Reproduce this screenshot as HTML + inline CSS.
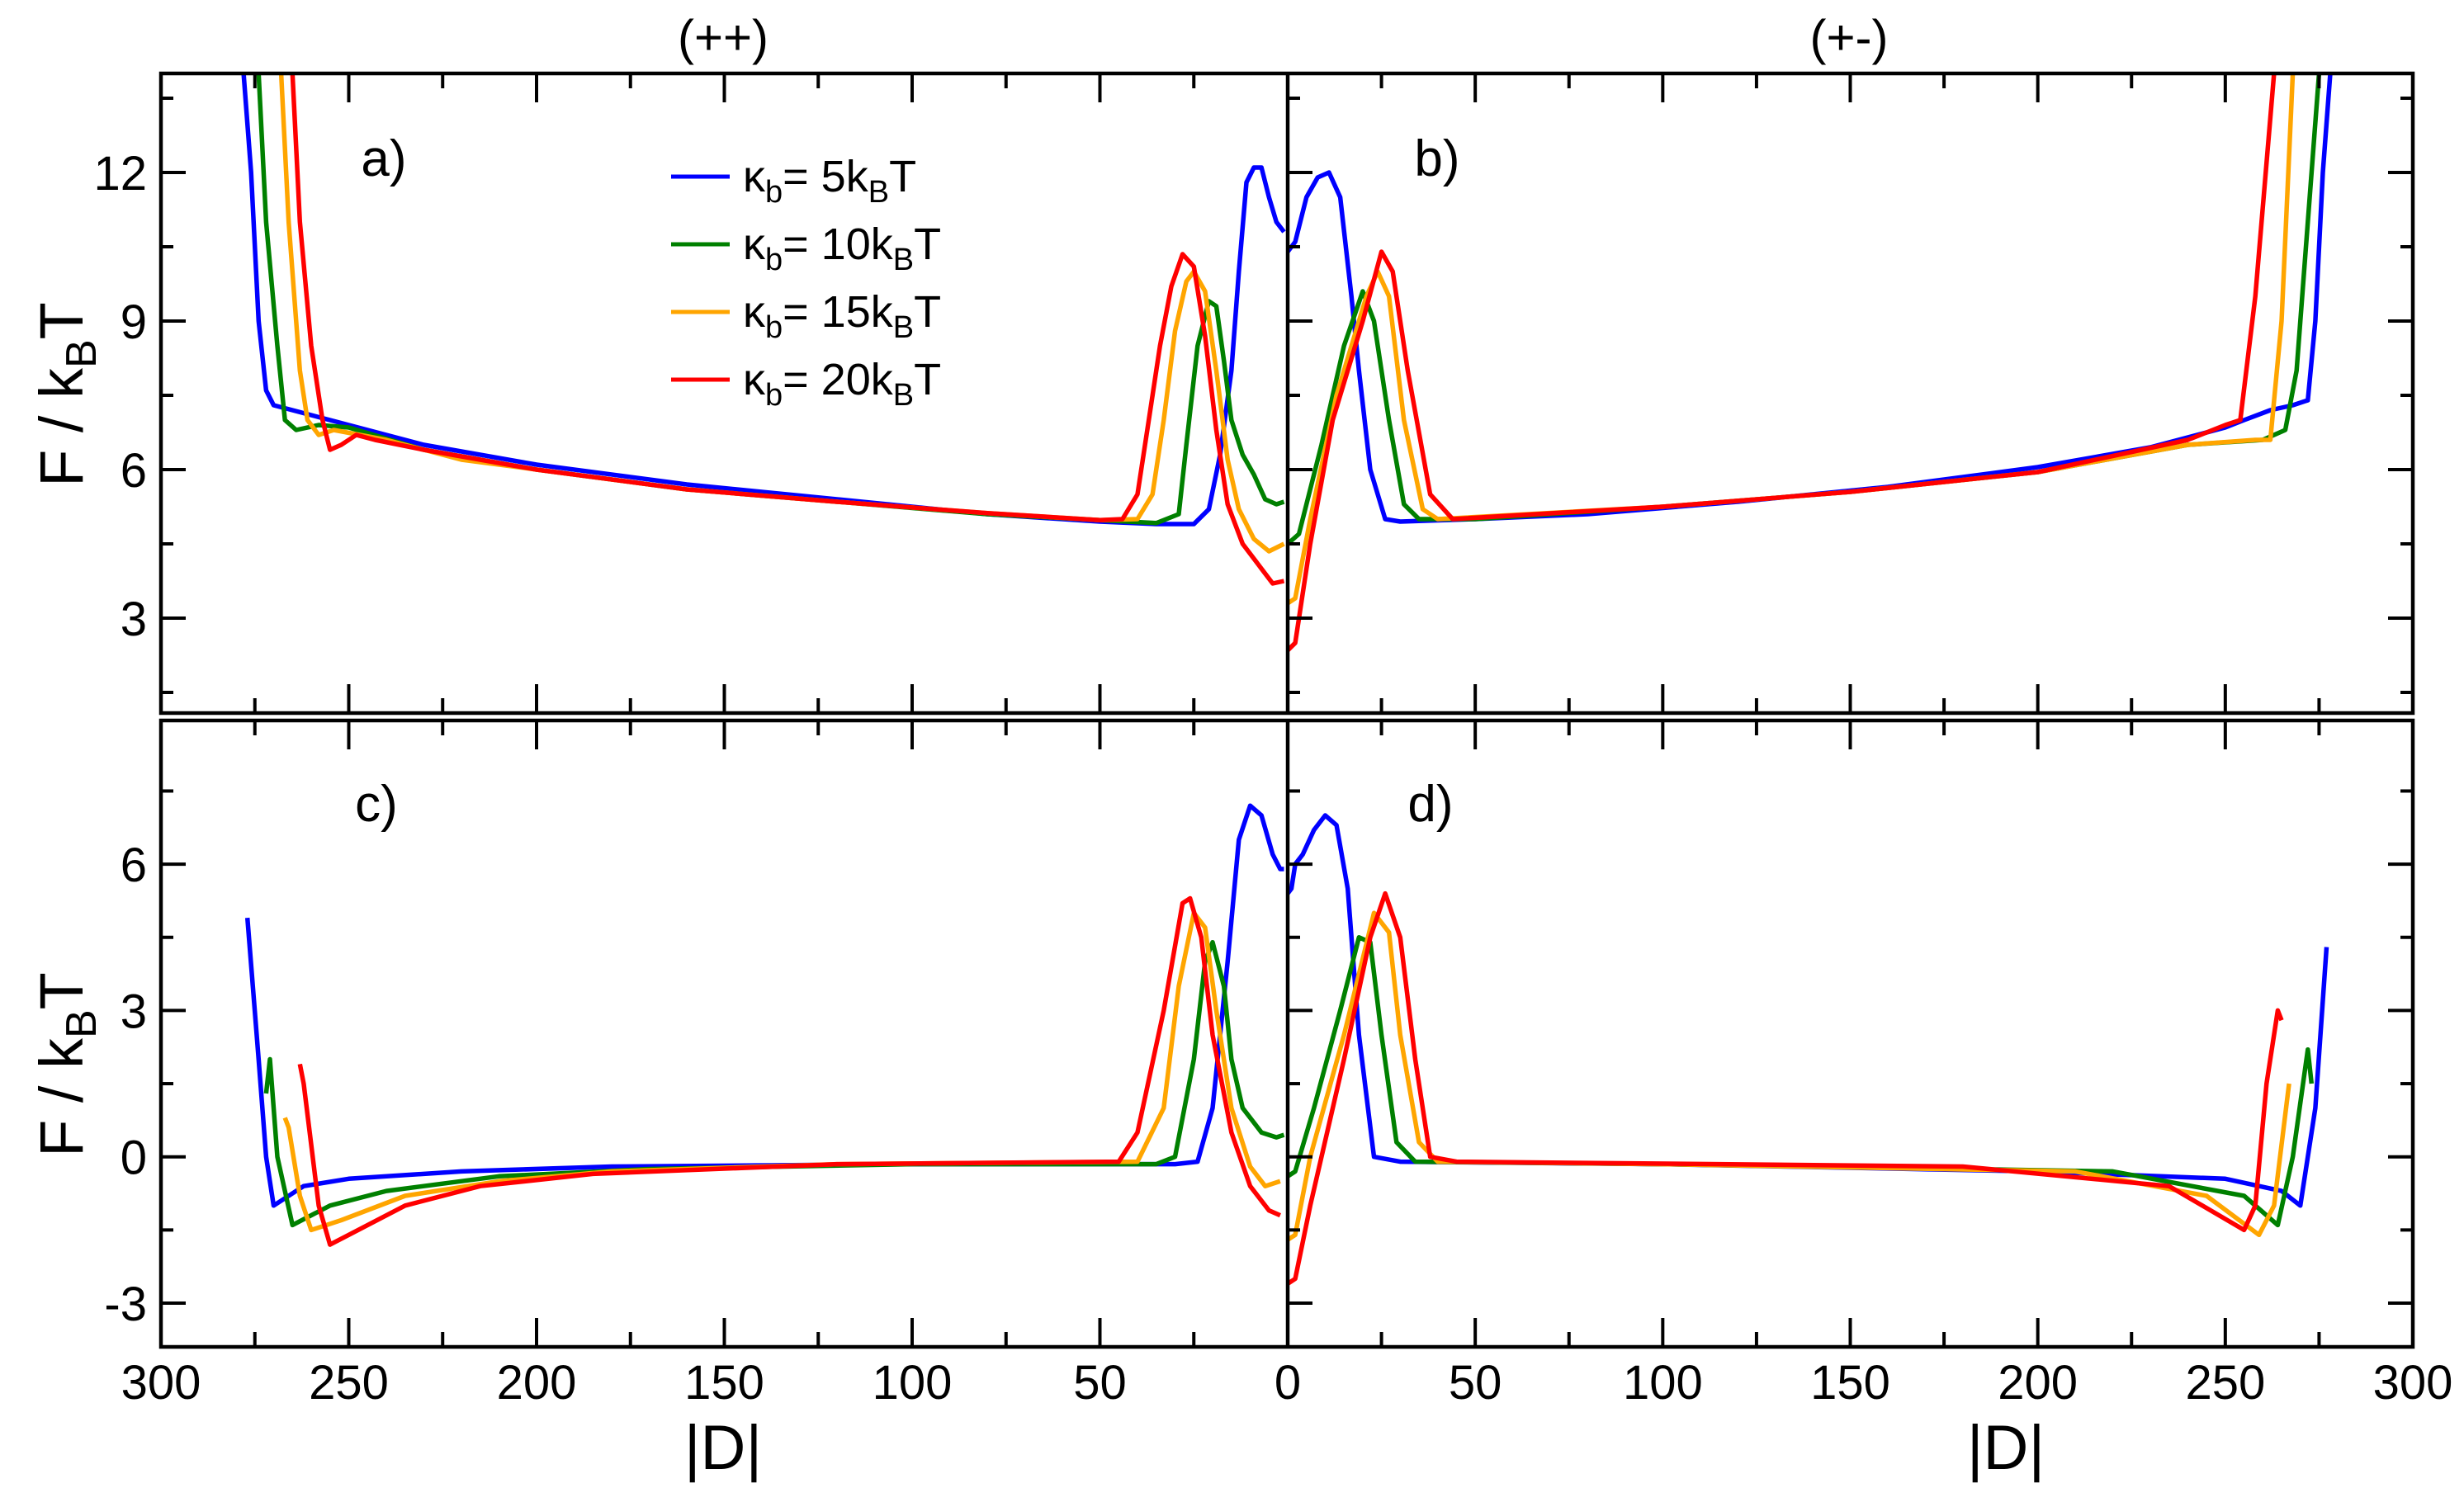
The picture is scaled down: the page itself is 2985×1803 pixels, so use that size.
<!DOCTYPE html>
<html><head><meta charset="utf-8"><style>
html,body{margin:0;padding:0;background:#fff}
svg{display:block;font-family:"Liberation Sans",sans-serif}
</style></head><body>
<svg id="chart" width="2985" height="1803" viewBox="0 0 2985 1803" xmlns="http://www.w3.org/2000/svg"></svg>
<script>
// ---- data (D, F) ----
const aBlueD=[278,276,274,272,270,265,250,230,200,160,120,80,50,35,25,21,18,15,13,11,9,7,5,3,1];
const aBlueF=[14,12,9,7.6,7.3,7.2,6.9,6.5,6.1,5.7,5.4,5.1,4.95,4.9,4.9,5.2,6.3,8,10,11.8,12.1,12.1,11.5,11.0,10.8];
const aGreenD=[274,272,269,267,264,258,250,230,200,160,120,80,50,35,29,27,24,21,19,17,15,12,9,6,3,1];
const aGreenF=[14,11,8.5,7,6.8,6.9,6.85,6.4,6.0,5.6,5.35,5.1,4.98,4.92,5.1,6.5,8.5,9.4,9.3,8.2,7,6.3,5.9,5.4,5.3,5.35];
const aOrangeD=[268,266,263,261,258,254,240,220,200,160,120,80,50,40,36,33,30,27,25,22,19,16,13,9,5,1];
const aOrangeF=[14,11,8,7,6.7,6.8,6.6,6.2,6.0,5.6,5.35,5.12,4.98,5.0,5.5,7,8.8,9.8,10,9.6,8,6.2,5.2,4.6,4.35,4.5];
const aRedD=[265,263,260,257,255,252,248,243,230,200,160,120,80,50,44,40,37,34,31,28,25,22,19,16,12,8,4,1];
const aRedF=[14,11,8.5,7,6.4,6.5,6.7,6.6,6.4,6.0,5.6,5.35,5.12,4.98,5.0,5.5,7,8.5,9.7,10.35,10.1,8.7,6.8,5.3,4.5,4.1,3.7,3.75];

const bBlueD=[0,2,5,8,11,14,17,19,22,26,30,50,80,120,160,200,230,250,255,262,268,272,274,276,278];
const bBlueF=[10.4,10.6,11.5,11.9,12,11.5,9.5,8,6,5,4.95,5.0,5.1,5.35,5.65,6.05,6.45,6.85,7.0,7.2,7.3,7.4,9,12,14];
const bGreenD=[0,3,9,15,20,23,27,31,35,50,100,150,200,240,260,266,269,272,275];
const bGreenF=[4.5,4.7,6.5,8.5,9.6,9.0,7,5.3,5.0,5.0,5.25,5.55,5.95,6.5,6.6,6.8,8,11,14];
const bOrangeD=[0,2,6,13,21,24,27,31,36,40,100,150,200,240,258,262,265,268];
const bOrangeF=[3.3,3.4,5,7.5,9.5,10,9.5,7,5.2,5.0,5.25,5.55,5.95,6.5,6.6,6.6,9,14];
const bRedD=[0,2,6,12,20,25,28,32,38,44,100,150,200,240,250,254,258,263];
const bRedF=[2.35,2.5,4.5,7,9,10.4,10,8,5.5,5.0,5.25,5.55,5.95,6.6,6.9,7.0,9.5,14];

const cBlueD=[277,274,272,270,266,262,250,220,180,100,30,24,20,16,13,10,7,4,2,1];
const cBlueF=[4.9,2,0,-1,-0.8,-0.6,-0.45,-0.3,-0.2,-0.15,-0.15,-0.1,1,4,6.5,7.2,7.0,6.2,5.9,5.9];
const cGreenD=[272,271,269,265,255,240,210,170,100,35,30,25,22,20,17,15,12,7,3,1];
const cGreenF=[1.3,2,0,-1.4,-1,-0.7,-0.4,-0.25,-0.15,-0.15,0,2,4,4.4,3.5,2,1,0.5,0.4,0.45];
const cOrangeD=[267,266,263,260,252,235,210,180,120,40,33,29,25,22,19,15,10,6,2];
const cOrangeF=[0.8,0.6,-0.8,-1.5,-1.3,-0.8,-0.5,-0.3,-0.15,-0.1,1,3.5,5,4.7,3,1,-0.2,-0.6,-0.5];
const cRedD=[263,262,258,255,250,235,215,185,120,45,40,33,28,26,23,20,15,10,5,2];
const cRedF=[1.9,1.5,-1,-1.8,-1.6,-1,-0.6,-0.35,-0.15,-0.1,0.5,3,5.2,5.3,4.5,2.5,0.5,-0.6,-1.1,-1.2];

const dBlueD=[0,1,2,4,7,10,13,16,19,23,30,100,200,250,265,270,274,277];
const dBlueF=[5.4,5.5,6,6.2,6.7,7.0,6.8,5.5,2.5,0,-0.1,-0.15,-0.3,-0.45,-0.7,-1,1,4.3];
const dGreenD=[0,2,7,14,19,22,25,29,34,100,220,255,264,268,272,273];
const dGreenF=[-0.4,-0.3,1,3,4.5,4.4,2.5,0.3,-0.1,-0.15,-0.3,-0.8,-1.4,0,2.2,1.5];
const dOrangeD=[0,2,6,15,23,27,30,35,40,100,210,245,259,263,267];
const dOrangeF=[-1.7,-1.6,0,2.5,5,4.6,2.5,0.3,-0.1,-0.15,-0.3,-0.8,-1.6,-1,1.5];
const dRedD=[0,2,6,15,22,26,30,34,38,45,180,235,255,258,261,264,265];
const dRedF=[-2.6,-2.5,-1,2,4.5,5.4,4.5,2,0,-0.1,-0.2,-0.6,-1.5,-1,1.5,3,2.8];

const topTicks=[3,6,9,12];
const botTicks=[-3,0,3,6];
const xTicks=[0,50,100,150,200,250,300];

// ---- layout ----
const NS="http://www.w3.org/2000/svg";
const svg=document.getElementById('chart');
const L=195,C=1560,R=2923;
const T1=89,B1=864,T2=873,B2=1632;
const colors={blue:'#0000ff',green:'#008000',orange:'#ffa500',red:'#ff0000'};
function el(tag,attrs,parent){const e=document.createElementNS(NS,tag);for(const k in attrs)e.setAttribute(k,attrs[k]);(parent||svg).appendChild(e);return e;}
function xLeft(d){return C-(C-L)*d/300;}
function xRight(d){return C+(R-C)*d/300;}
function yTop(f){return T1+(14-f)*60;}
function yBot(f){return 1401.7-f*59.1;}

const defs=el('defs',{});
[['clipA',L,T1,C-L,B1-T1],['clipB',C,T1,R-C,B1-T1],['clipC',L,T2,C-L,B2-T2],['clipD',C,T2,R-C,B2-T2]].forEach(c=>{
  const cp=el('clipPath',{id:c[0]},defs);el('rect',{x:c[1],y:c[2],width:c[3],height:c[4]},cp);
});

function series(D,F,xf,yf,color,clip,name){
  const pts=D.map((d,i)=>xf(d).toFixed(1)+','+yf(F[i]).toFixed(1)).join(' ');
  const p=el('polyline',{points:pts,fill:'none',stroke:color,'stroke-width':5.5,'stroke-linejoin':'round','clip-path':'url(#'+clip+')'});
  
  
}
const panels=[
 ['a',xLeft,yTop,'clipA',[[aBlueD,aBlueF,'blue'],[aGreenD,aGreenF,'green'],[aOrangeD,aOrangeF,'orange'],[aRedD,aRedF,'red']]],
 ['b',xRight,yTop,'clipB',[[bBlueD,bBlueF,'blue'],[bGreenD,bGreenF,'green'],[bOrangeD,bOrangeF,'orange'],[bRedD,bRedF,'red']]],
 ['c',xLeft,yBot,'clipC',[[cBlueD,cBlueF,'blue'],[cGreenD,cGreenF,'green'],[cOrangeD,cOrangeF,'orange'],[cRedD,cRedF,'red']]],
 ['d',xRight,yBot,'clipD',[[dBlueD,dBlueF,'blue'],[dGreenD,dGreenF,'green'],[dOrangeD,dOrangeF,'orange'],[dRedD,dRedF,'red']]]
];
panels.forEach(p=>p[4].forEach(s=>series(s[0],s[1],p[1],p[2],colors[s[2]],p[3],'panel-'+p[0]+'-'+s[2]+'-curve')));

function line(x1,y1,x2,y2,w,name){const l=el('line',{x1,y1,x2,y2,stroke:'#000','stroke-width':w});}
el('rect',{x:L,y:T1,width:R-L,height:B1-T1,fill:'none',stroke:'#000','stroke-width':4.5,});
el('rect',{x:L,y:T2,width:R-L,height:B2-T2,fill:'none',stroke:'#000','stroke-width':4.5,});
line(C,T1,C,B1,4.5,'top-divider');line(C,T2,C,B2,4.5,'bottom-divider');

for(let v=0;v<=300;v+=25){
  const major=v%50===0, len=major?35:18;
  [xLeft,xRight].forEach(xf=>{
    const x=xf(v);
    [[T1,1],[B1,-1],[T2,1],[B2,-1]].forEach(e=>line(x,e[0],x,e[0]+e[1]*len,4,'x-tick'));
  });
}
function yticks(yf,lo,hi,top,bot){
  for(let v=lo;v<=hi;v+=1.5){
    const y=yf(v); if(y<top+2||y>bot-2)continue;
    const major=Math.abs(v%3)<1e-6, len=major?30:15;
    line(L,y,L+len,y,4,'y-tick');line(C,y,C+len,y,4,'y-tick');line(R,y,R-len,y,4,'y-tick');
  }
}
yticks(yTop,1.5,13.5,T1,B1);yticks(yBot,-3,7.5,T2,B2);

function text(x,y,str,size,anchor,name){const t=el('text',{x,y,'font-size':size,'text-anchor':anchor||'middle',fill:'#000'});t.textContent=str;return t;}
topTicks.forEach(v=>text(178,yTop(v)+21,String(v),58,'end','y-tick-label'));
botTicks.forEach(v=>text(178,yBot(v)+21,String(v),58,'end','y-tick-label'));
xTicks.forEach(v=>{text(xLeft(v),1695,String(v),58,'middle','x-tick-label');});
xTicks.forEach(v=>{if(v>0)text(xRight(v),1695,String(v),58,'middle','x-tick-label');});

text(876,1780,'|D|',76,'middle','x-axis-title-left');
text(2430,1780,'|D|',76,'middle','x-axis-title-right');
text(876,66,'(++)',60,'middle','column-title-left');
text(2240,66,'(+-)',60,'middle','column-title-right');

function ylabel(cy,name){
  const t=el('text',{x:0,y:0,'font-size':74,'text-anchor':'middle',transform:'translate(100,'+cy+') rotate(-90)'});
  
  t.innerHTML='F / k<tspan dy="16" font-size="52">B</tspan><tspan dy="-16">T</tspan>';
}
ylabel(478,'y-axis-title-top');ylabel(1290,'y-axis-title-bottom');

text(465,213,'a)',62,'middle','panel-label-a');
text(1741,213,'b)',62,'middle','panel-label-b');
text(456,995,'c)',62,'middle','panel-label-c');
text(1733,995,'d)',62,'middle','panel-label-d');

const legVals=['5','10','15','20'];
const legCols=['blue','green','orange','red'];
legVals.forEach((v,i)=>{
  const y=214+i*82;
  const g=el('g',{});
  
  
  el('line',{x1:813,y1:y,x2:884,y2:y,stroke:colors[legCols[i]],'stroke-width':5},g);
  const t=el('text',{x:900,y:y+18,'font-size':54},g);
  t.innerHTML='κ<tspan dy="13" font-size="38">b</tspan><tspan dy="-13">= '+v+'k</tspan><tspan dy="13" font-size="38">B</tspan><tspan dy="-13">T</tspan>';
});
</script>
</body></html>
